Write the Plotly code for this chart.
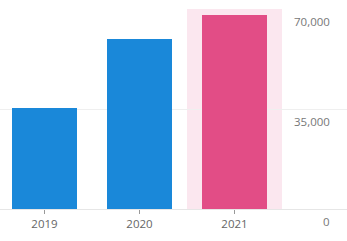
import plotly.graph_objects as go

categories = ["2019", "2020", "2021"]
values = [35400, 59500, 67900]
bar_colors = ["#1a88d9", "#1a88d9", "#e24d86"]
y_ticks = [0, 35000, 70000]
y_tick_labels = ["0", "35,000", "70,000"]
highlight_category = "2021"

W, H = 347, 241
step = 95.0
first_center = 44.5
x_lo = (0 - first_center) / step
x_hi = (W - first_center) / step

fig = go.Figure()
fig.add_trace(go.Bar(
    x=list(range(len(categories))), y=values,
    marker=dict(color=bar_colors, line=dict(width=0)),
    width=65 / step, hoverinfo="skip",
))

hi = categories.index(highlight_category)
fig.add_shape(type="rect", xref="x", yref="y", x0=hi - 0.5, x1=hi + 0.5,
              y0=0, y1=y_ticks[-1], fillcolor="#fbe7ef", line=dict(width=0), layer="below")

for v, lab in zip(y_ticks, y_tick_labels):
    fig.add_annotation(x=332 / W, xref="paper", y=v, yref="y", text=lab,
                       showarrow=False, xanchor="right", yanchor="top", yshift=-3,
                       font=dict(family="Open Sans", size=11.5, color="#777777"))

fig.update_layout(
    width=W, height=H, margin=dict(l=0, r=0, t=9, b=32),
    paper_bgcolor="white", plot_bgcolor="white", showlegend=False,
    bargap=0,
)
fig.update_xaxes(range=[x_lo, x_hi], tickvals=list(range(len(categories))), ticktext=categories,
                 ticks="outside", ticklen=4, tickcolor="#999999", tickwidth=1,
                 showline=True, linecolor="#e6e6e6", linewidth=1, showgrid=False, zeroline=False,
                 tickfont=dict(family="Open Sans", size=11.5, color="#666666"))
fig.update_yaxes(range=[0, y_ticks[-1]], tickvals=y_ticks, showticklabels=False,
                 showgrid=True, gridcolor="#efefef", gridwidth=1, zeroline=False)

fig.write_html("out.html")
